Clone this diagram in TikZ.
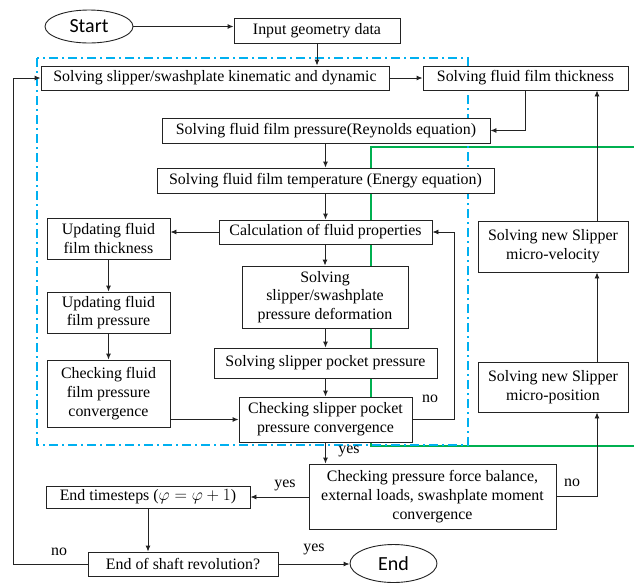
\documentclass[tikz,border=0pt]{standalone}
\usepackage{fontspec}
\setmainfont{Liberation Serif}
\newfontfamily\calib{Carlito}
\usetikzlibrary{arrows.meta,shapes.geometric}
\definecolor{cblue}{RGB}{0,176,240}
\definecolor{cgreen}{RGB}{0,176,80}
\definecolor{cline}{RGB}{35,35,35}
\begin{document}
\begin{tikzpicture}[x=1pt,y=-1pt,
  font=\fontsize{15.9}{18.7}\selectfont,
  box/.style={draw=cline,line width=0.9pt,fill=white,inner sep=0pt,align=center},
  oval/.style={draw=cline,line width=0.9pt,fill=white,ellipse,inner sep=0pt,font=\calib\fontsize{20}{24}\selectfont},
  arr/.style={draw=cline,line width=0.9pt,-{Latex[length=6pt,width=5pt]}},
  lab/.style={inner sep=0pt},
  blueline/.style={draw=cblue,line width=1.6pt,dash pattern=on 9pt off 4pt on 2pt off 4pt},
  greenline/.style={draw=cgreen,line width=1.6pt}]
\useasboundingbox (0,0) rectangle (634,582);
% frames
\draw[greenline] (634,147) -- (371,147) -- (371,446) -- (634,446);
\draw[blueline] (37,58) rectangle (468,445);
% nodes
\node[oval,minimum width=88pt,minimum height=33pt] (st) at (89,26.5) {Start};
\node[box,minimum width=166pt,minimum height=25pt] (in) at (317,30.5) {Input geometry data};
\node[box,minimum width=348pt,minimum height=24pt] (b1) at (215,78) {Solving slipper/swashplate kinematic and dynamic};
\node[box,minimum width=205pt,minimum height=24pt] (ft) at (525.5,78) {Solving fluid film thickness};
\node[box,minimum width=328pt,minimum height=25pt] (pr) at (326,130.5) {Solving fluid film pressure(Reynolds equation)};
\node[box,minimum width=337pt,minimum height=25pt] (te) at (325.5,180.5) {Solving fluid film temperature (Energy equation)};
\node[box,minimum width=213pt,minimum height=24pt] (cp) at (325.5,232) {Calculation of fluid properties};
\node[box,minimum width=123pt,minimum height=41pt] (ut) at (108.5,238.5) {Updating fluid\\film thickness};
\node[box,minimum width=123pt,minimum height=41pt] (up) at (108.5,312.5) {Updating fluid\\film pressure};
\node[box,minimum width=123pt,minimum height=67pt] (cf) at (108.5,393.5) {Checking fluid\\film pressure\\convergence};
\node[box,minimum width=166pt,minimum height=62pt] (de) at (325,297) {Solving\\slipper/swashplate\\pressure deformation};
\node[box,minimum width=223pt,minimum height=30pt] (pp) at (325.5,363) {Solving slipper pocket pressure};
\node[box,minimum width=173pt,minimum height=45pt] (cs) at (325.5,419.5) {Checking slipper pocket\\pressure convergence};
\node[box,minimum width=150pt,minimum height=51pt] (ve) at (553,246.5) {Solving new Slipper\\micro-velocity};
\node[box,minimum width=150pt,minimum height=50pt] (po) at (553,387) {Solving new Slipper\\micro-position};
\node[box,minimum width=247pt,minimum height=65pt] (fb) at (432.5,496.5) {Checking pressure force balance,\\external loads, swashplate moment\\convergence};
\node[box,minimum width=204pt,minimum height=22pt] (et) at (148,497) {End timesteps ($\varphi = \varphi + 1$)};
\node[box,minimum width=190pt,minimum height=24pt] (es) at (183,564) {End of shaft revolution?};
\node[oval,minimum width=87pt,minimum height=38pt] (en) at (393.5,563.5) {End};
\coordinate (rx) at (597,0);
\coordinate (lx) at (13,0);
\coordinate (nx) at (454,0);
% connectors
\draw[arr] (st.east) -- (st.east -| in.west);
\draw[arr] (in.south) -- (in.south |- b1.north);
\draw[arr] (b1.east) -- (ft.west);
\draw[arr] (ft.south) |- (pr.east);
\draw[arr] (pr.south -| te.north) -- (te.north);
\draw[arr] (te.south) -- (cp.north);
\draw[arr] (cp.west) -- (cp.west -| ut.east);
\draw[arr] (ut.south) -- (up.north);
\draw[arr] (up.south) -- (cf.north);
\draw[arr] (cf.east |- cs.west) -- (cs.west);
\draw[arr] (cp.south -| de.north) -- (de.north);
\draw[arr] (de.south -| pp.north) -- (pp.north);
\draw[arr] (pp.south) -- (cs.north);
\draw[arr] (cs.east) -- (cs.east -| nx) |- (cp.east);
\draw[arr] (cs.south) -- (cs.south |- fb.north);
\draw[arr] (fb.east) -| (rx |- po.south);
\draw[arr] (rx |- po.north) -- (rx |- ve.south);
\draw[arr] (rx |- ve.north) -- (rx |- ft.south);
\draw[arr] (fb.west |- et.east) -- (et.east);
\draw[arr] (et.south) -- (et.south |- es.north);
\draw[arr] (es.west) -| (lx |- b1.west) -- (b1.west);
\draw[arr] (es.east) -- (es.east -| en.west);
% labels
\node[lab] (l1) at (430,399) {no};
\node[lab] (l2) at (349,451) {yes};
\node[lab] (l3) at (572,483) {no};
\node[lab] (l4) at (285,485) {yes};
\node[lab] (l5) at (59,552) {no};
\node[lab] (l6) at (314,549) {yes};
\end{tikzpicture}
\end{document}
